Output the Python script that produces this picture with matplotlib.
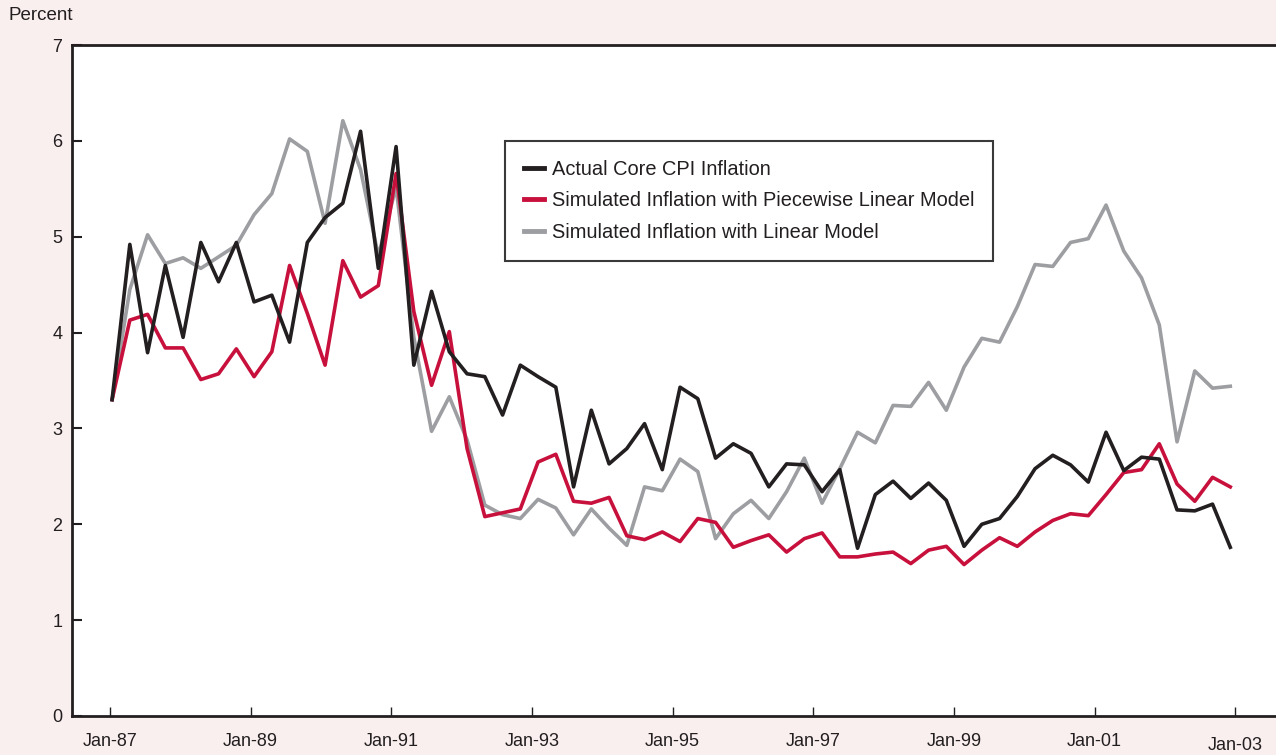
import numpy as np
import matplotlib.pyplot as plt
from matplotlib.transforms import ScaledTranslation

plt.rcParams['font.family'] = ['Liberation Sans', 'DejaVu Sans']

# Quarterly observations, 1987 through 2002
n_obs = 64
dates = np.linspace(1987.03, 2002.93, n_obs)

actual = [3.30, 4.92, 3.79, 4.70, 3.95, 4.94, 4.53, 4.94, 4.32, 4.39,
          3.90, 4.94, 5.20, 5.35, 6.10, 4.67, 5.94, 3.66, 4.43, 3.80,
          3.57, 3.54, 3.14, 3.66, 3.54, 3.43, 2.39, 3.19, 2.63, 2.79,
          3.05, 2.57, 3.43, 3.31, 2.69, 2.84, 2.74, 2.39, 2.63, 2.62,
          2.34, 2.57, 1.75, 2.31, 2.45, 2.27, 2.43, 2.25, 1.77, 2.00,
          2.06, 2.29, 2.58, 2.72, 2.62, 2.44, 2.96, 2.56, 2.70, 2.68,
          2.15, 2.14, 2.21, 1.76]

piecewise = [3.30, 4.13, 4.19, 3.84, 3.84, 3.51, 3.57, 3.83, 3.54, 3.80,
             4.70, 4.20, 3.66, 4.75, 4.37, 4.49, 5.66, 4.22, 3.45, 4.01,
             2.79, 2.08, 2.12, 2.16, 2.65, 2.73, 2.24, 2.22, 2.28, 1.88,
             1.84, 1.92, 1.82, 2.06, 2.02, 1.76, 1.83, 1.89, 1.71, 1.85,
             1.91, 1.66, 1.66, 1.69, 1.71, 1.59, 1.73, 1.77, 1.58, 1.73,
             1.86, 1.77, 1.92, 2.04, 2.11, 2.09, 2.31, 2.54, 2.57, 2.84,
             2.42, 2.24, 2.49, 2.39]

linear = [3.30, 4.45, 5.02, 4.72, 4.78, 4.67, 4.79, 4.91, 5.23, 5.45,
          6.02, 5.89, 5.14, 6.21, 5.70, 4.80, 5.52, 3.95, 2.97, 3.33,
          2.88, 2.20, 2.10, 2.06, 2.26, 2.17, 1.89, 2.16, 1.96, 1.78,
          2.39, 2.35, 2.68, 2.55, 1.85, 2.11, 2.25, 2.06, 2.34, 2.69,
          2.22, 2.58, 2.96, 2.85, 3.24, 3.23, 3.48, 3.19, 3.64, 3.94,
          3.90, 4.27, 4.71, 4.69, 4.94, 4.98, 5.33, 4.85, 4.57, 4.08,
          2.86, 3.60, 3.42, 3.44]

tick_years = [1987, 1989, 1991, 1993, 1995, 1997, 1999, 2001, 2003]
tick_labels = ["Jan-87", "Jan-89", "Jan-91", "Jan-93", "Jan-95",
               "Jan-97", "Jan-99", "Jan-01", "Jan-03"]

text_col = "#231f20"
fig = plt.figure(figsize=(12.76, 7.55), dpi=100, facecolor="#f9efee")
ax = fig.add_axes([72 / 1276, 1 - 716 / 755, 1 - 72 / 1276, (716 - 45) / 755])
ax.set_facecolor("white")

ax.plot(dates, linear, color="#9d9ea1", lw=2.6, label="Simulated Inflation with Linear Model", zorder=2)
ax.plot(dates, piecewise, color="#c8103c", lw=2.6, label="Simulated Inflation with Piecewise Linear Model", zorder=3)
ax.plot(dates, actual, color="#231f20", lw=2.6, label="Actual Core CPI Inflation", zorder=4)

ax.set_xlim(1986.46, 2003.58)
ax.set_ylim(0, 7)
ax.set_yticks(range(8))
ax.set_xticks(tick_years)
ax.set_xticklabels(tick_labels)

for side in ["left", "top", "bottom"]:
    ax.spines[side].set_linewidth(2)
    ax.spines[side].set_color(text_col)
ax.spines["right"].set_visible(False)

ax.tick_params(axis="y", direction="in", length=7, width=1.5, color=text_col,
               labelsize=13, labelcolor=text_col, pad=7)
ax.tick_params(axis="x", direction="in", length=6.5, width=1, color=text_col,
               labelsize=13, labelcolor=text_col, pad=12)
# the last date label sits a little lower in the original
last = ax.get_xticklabels()[-1]
last.set_transform(last.get_transform() + ScaledTranslation(0, -4 / 100, fig.dpi_scale_trans))

fig.text(8 / 1276, 1 - 15 / 755, "Percent", fontsize=13.5, color=text_col, va="center", ha="left")

handles, labels = ax.get_legend_handles_labels()
order = [2, 1, 0]
leg = ax.legend([handles[i] for i in order], [labels[i] for i in order],
                loc="upper left", bbox_to_anchor=(0.3596, 0.857), borderaxespad=0,
                fontsize=14.4, frameon=True, fancybox=False, framealpha=1,
                edgecolor="#3a3a3a", handlelength=1.0, handletextpad=0.4,
                labelspacing=0.62, borderpad=0.95)
leg.get_frame().set_linewidth(1.5)
for t in leg.get_texts():
    t.set_color(text_col)
for h in leg.get_lines():
    h.set_linewidth(3.5)

fig.savefig("out.png", dpi=100, facecolor=fig.get_facecolor())
